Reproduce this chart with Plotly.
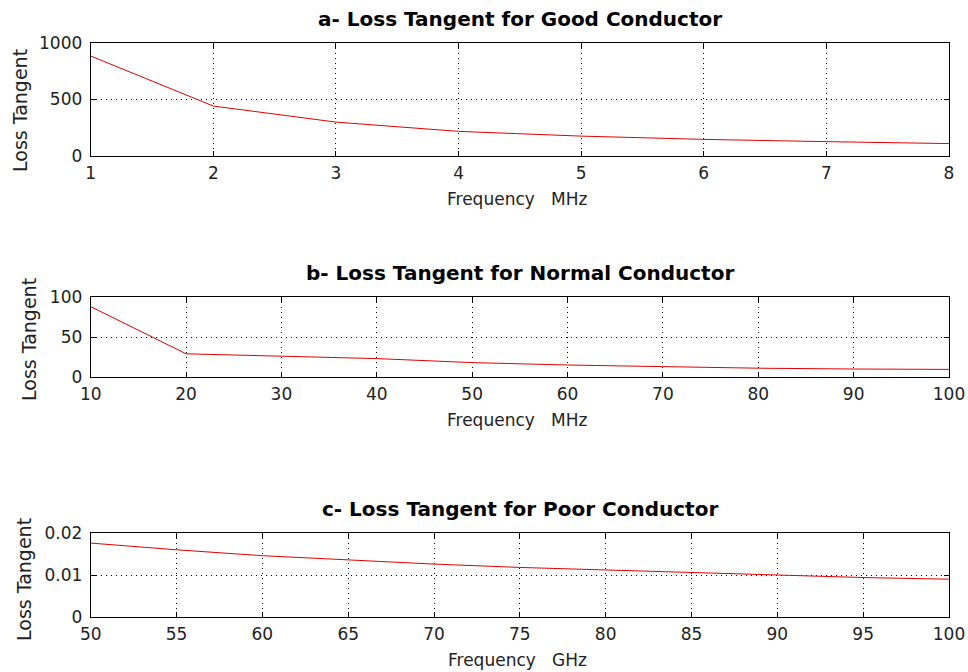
import plotly.graph_objects as go

# ---- data ----
good_freq_mhz = [1, 2, 3, 4, 5, 6, 7, 8]
good_loss_tangent = [885, 442, 300, 218, 176, 147, 127, 110]

normal_freq_mhz = [10, 20, 30, 40, 50, 60, 70, 80, 90, 100]
normal_loss_tangent = [88, 29, 26, 23, 18, 15, 13, 11, 10, 9.5]

poor_freq_ghz = [50, 55, 60, 65, 70, 75, 80, 85, 90, 95, 100]
poor_loss_tangent = [0.0176, 0.0160, 0.0146, 0.0136, 0.0126, 0.0118, 0.0112, 0.0106, 0.0099, 0.0094, 0.0090]

titles = ["a- Loss Tangent for Good Conductor",
          "b- Loss Tangent for Normal Conductor",
          "c- Loss Tangent for Poor Conductor"]
xlabels = ["Frequency   MHz", "Frequency   MHz", "Frequency   GHz"]
ylabel = "Loss Tangent"

a_xticks = [1, 2, 3, 4, 5, 6, 7, 8]
a_yticks = [0, 500, 1000]
b_xticks = [10, 20, 30, 40, 50, 60, 70, 80, 90, 100]
b_yticks = [0, 50, 100]
c_xticks = [50, 55, 60, 65, 70, 75, 80, 85, 90, 95, 100]
c_yticks = [0, 0.01, 0.02]
c_yticklabels = ["0", "0.01", "0.02"]

W, H = 968, 672

x_dom = [90.7 / W, 949 / W]
# (top, bottom) in page pixels
boxes = [(43, 156), (297, 377), (533, 617)]
y_doms = [[1 - b / H, 1 - t / H] for t, b in boxes]
ylabel_pos = [(20, 111), (29, 340), (24, 580)]

FONT = "DejaVu Sans, Verdana, sans-serif"

fig = go.Figure()
series = [(good_freq_mhz, good_loss_tangent), (normal_freq_mhz, normal_loss_tangent),
          (poor_freq_ghz, poor_loss_tangent)]
for i, (xs, ys) in enumerate(series):
    suffix = "" if i == 0 else str(i + 1)
    fig.add_trace(go.Scatter(x=xs, y=ys, mode="lines",
                             line=dict(color="#E00000", width=1),
                             xaxis="x" + suffix, yaxis="y" + suffix,
                             showlegend=False, hoverinfo="x+y"))

tickfont = dict(family=FONT, size=17, color="#222222")
axis_common = dict(showline=True, linecolor="black", linewidth=1, mirror="allticks",
                   ticks="inside", ticklen=5, tickcolor="black",
                   showgrid=True, gridcolor="black", griddash="1px,4px", gridwidth=1,
                   zeroline=False, tickfont=tickfont, automargin=False)

ranges = [([1, 8], [0, 1000], a_xticks, a_yticks, None),
          ([10, 100], [0, 100], b_xticks, b_yticks, None),
          ([50, 100], [0, 0.02], c_xticks, c_yticks, c_yticklabels)]

layout = {}
for i, (xr, yr, xt, yt, ytl) in enumerate(ranges):
    suffix = "" if i == 0 else str(i + 1)
    xa = dict(axis_common, domain=x_dom, range=xr, tickvals=xt,
              anchor="y" + suffix, ticklabelstandoff=2)
    ya = dict(axis_common, domain=y_doms[i], range=yr, tickvals=yt,
              anchor="x" + suffix, ticklabelstandoff=4)
    if ytl is not None:
        ya["ticktext"] = ytl
    layout["xaxis" + suffix] = xa
    layout["yaxis" + suffix] = ya

annotations = []
for i, (t, b) in enumerate(boxes):
    annotations.append(dict(text="<b>" + titles[i] + "</b>", x=520 / W, y=1 - (t - 24) / H,
                            xref="paper", yref="paper", showarrow=False,
                            xanchor="center", yanchor="middle",
                            font=dict(family=FONT, size=20, color="black")))
    annotations.append(dict(text=xlabels[i], x=517 / W, y=1 - (b + 43) / H,
                            xref="paper", yref="paper", showarrow=False,
                            xanchor="center", yanchor="middle",
                            font=dict(family=FONT, size=17, color="#222222")))
    lx, ly = ylabel_pos[i]
    annotations.append(dict(text=ylabel, x=lx / W, y=1 - ly / H,
                            xref="paper", yref="paper", showarrow=False, textangle=-90,
                            xanchor="center", yanchor="middle",
                            font=dict(family=FONT, size=19, color="#222222")))

fig.update_layout(width=W, height=H, margin=dict(l=0, r=0, t=0, b=0, autoexpand=False),
                  paper_bgcolor="white", plot_bgcolor="white",
                  annotations=annotations, **layout)

fig.write_html("out.html",
               config={"displayModeBar": False},
               post_script="document.body.style.margin='0';"
                           "document.body.style.overflow='hidden';")
